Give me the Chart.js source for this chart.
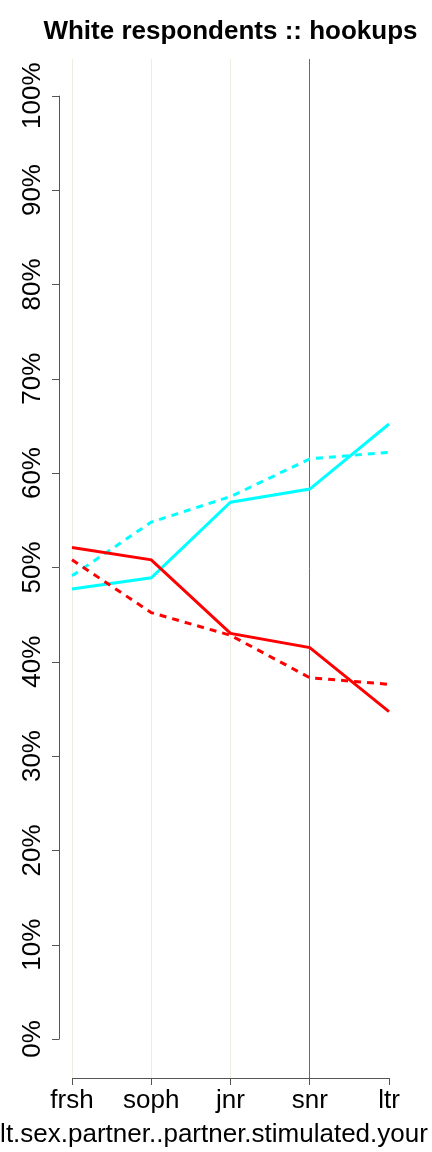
<!DOCTYPE html>
<html>
<head>
<meta charset="utf-8">
<script src="https://cdn.jsdelivr.net/npm/chart.js@4/dist/chart.umd.min.js"></script>
<style>
    html, body { margin: 0; padding: 0; background: #fff; overflow: hidden; }
    canvas { display: block; }
</style>
</head>
<body>
<canvas id="hookupsChart" width="432" height="1152"></canvas>
<script>
var years = ["frsh", "soph", "jnr", "snr", "ltr"];
var yTicks = [0, 10, 20, 30, 40, 50, 60, 70, 80, 90, 100];
// red lines
var redSolid = [52.1, 50.8, 43.0, 41.5, 34.7];
var redDashed = [50.8, 45.2, 42.8, 38.3, 37.6];
// cyan lines
var cyanSolid = [47.7, 48.9, 56.9, 58.3, 65.2];
var cyanDashed = [49.1, 54.8, 57.5, 61.5, 62.2];
var gridColors = ["#efede0", "#efede0", "#efede0", "#6a6a6a", "rgba(0,0,0,0)"];
var chartTitle = "White respondents :: hookups";
var xTitle = "lt.sex.partner..partner.stimulated.your";

var FONT = "'Liberation Sans', Arial, sans-serif";

// R style detached y axis, rotated labels, and titles (drawn without squeezing)
var rAxisPlugin = {
    id: "rAxisPlugin",
    afterDraw: function (chart) {
        var ctx = chart.ctx;
        var y = chart.scales.y;
        var area = chart.chartArea;
        var x0 = area.left - 13;
        ctx.save();
        ctx.strokeStyle = "#555";
        ctx.lineWidth = 1;
        ctx.beginPath();
        ctx.moveTo(x0 + 0.5, y.getPixelForValue(yTicks[0]));
        ctx.lineTo(x0 + 0.5, y.getPixelForValue(yTicks[yTicks.length - 1]));
        for (var i = 0; i < yTicks.length; i++) {
            var py = Math.round(y.getPixelForValue(yTicks[i])) + 0.5;
            ctx.moveTo(x0 + 0.5, py);
            ctx.lineTo(x0 - 7, py);
        }
        ctx.stroke();
        ctx.fillStyle = "#000";
        ctx.font = "26px " + FONT;
        ctx.textAlign = "center";
        ctx.textBaseline = "middle";
        for (var j = 0; j < yTicks.length; j++) {
            ctx.save();
            ctx.translate(33, y.getPixelForValue(yTicks[j]));
            ctx.rotate(-Math.PI / 2);
            ctx.fillText(yTicks[j] + "%", 0, 0);
            ctx.restore();
        }
        // main title
        ctx.font = "bold 26px " + FONT;
        ctx.textBaseline = "middle";
        ctx.fillText(chartTitle, (area.left + area.right) / 2, 32);
        // x axis title (runs off both edges like the original)
        ctx.font = "26px " + FONT;
        ctx.textBaseline = "alphabetic";
        ctx.fillText(xTitle, 214, 1142);
        ctx.restore();
    }
};

function lineSet(label, data, color, dashed) {
    return {
        label: label,
        data: data,
        borderColor: color,
        backgroundColor: color,
        borderWidth: 3,
        borderDash: dashed ? [7, 6] : [],
        pointRadius: 0,
        tension: 0,
        fill: false
    };
}

var ctx = document.getElementById("hookupsChart").getContext("2d");
var hookupsChart = new Chart(ctx, {
    type: "line",
    data: {
        labels: years,
        datasets: [
            lineSet("red solid", redSolid, "#ff0000", false),
            lineSet("red dashed", redDashed, "#ff0000", true),
            lineSet("cyan solid", cyanSolid, "#00ffff", false),
            lineSet("cyan dashed", cyanDashed, "#00ffff", true)
        ]
    },
    options: {
        responsive: false,
        devicePixelRatio: 1,
        animation: false,
        layout: {
            padding: { left: 72, right: 43, top: 59, bottom: 0 }
        },
        plugins: {
            legend: { display: false },
            tooltip: { enabled: false },
            title: { display: false }
        },
        scales: {
            x: {
                offset: false,
                grid: {
                    display: true,
                    color: function (c) { return gridColors[c.index]; },
                    lineWidth: 1,
                    drawTicks: true,
                    tickLength: 7,
                    tickColor: "#555"
                },
                border: { display: true, color: "#555", width: 1 },
                ticks: {
                    color: "#000",
                    font: { family: FONT, size: 26 },
                    padding: 0,
                    maxRotation: 0,
                    autoSkip: false
                },
                afterFit: function (scale) { scale.height = 74; }
            },
            y: {
                display: false,
                min: -4.13,
                max: 103.89
            }
        }
    },
    plugins: [rAxisPlugin]
});
</script>
</body>
</html>
